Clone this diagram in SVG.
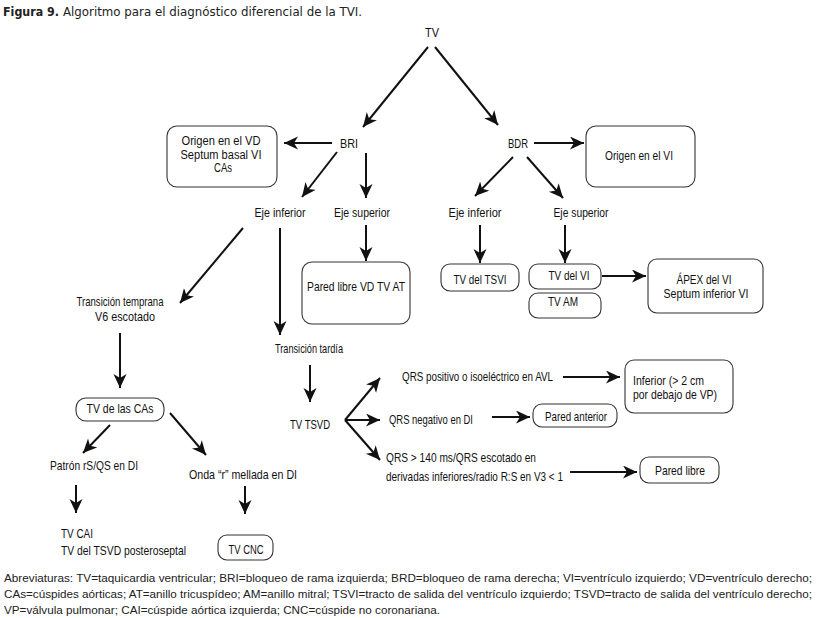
<svg xmlns="http://www.w3.org/2000/svg" width="816" height="618" viewBox="0 0 816 618">
<style>
.t{font-family:"Liberation Sans Narrow","Liberation Sans",Arial,sans-serif;font-size:13.5px;fill:#111}
.s{font-size:12.5px}
.m{text-anchor:middle}
.b{fill:#fff;stroke:#333;stroke-width:1.1}
.c line{stroke:#111;stroke-width:2}
.h{font-family:"DejaVu Sans",Verdana,sans-serif;font-size:12.5px;fill:#222}
.a{font-family:"Liberation Sans",Arial,sans-serif;font-size:11px;fill:#222}
</style>
<defs>
<marker id="ar" markerUnits="userSpaceOnUse" markerWidth="16" markerHeight="14" refX="14" refY="6.5" orient="auto" viewBox="0 0 16 14">
<path d="M0,0 L14,6.5 L0,13 L4,6.5 Z" fill="#111"/>
</marker>
</defs>
<rect width="816" height="618" fill="#fff"/>
<text class="h" x="3" y="16" font-weight="bold" textLength="56" lengthAdjust="spacingAndGlyphs">Figura 9.</text>
<text class="h" x="63" y="16" textLength="299" lengthAdjust="spacingAndGlyphs">Algoritmo para el diagnóstico diferencial de la TVI.</text>

<g class="c" marker-end="url(#ar)">
<line x1="428" y1="47" x2="363" y2="127"/>
<line x1="435" y1="47" x2="498" y2="125"/>
<line x1="332" y1="143" x2="284" y2="143"/>
<line x1="337" y1="152" x2="302" y2="197"/>
<line x1="366" y1="153" x2="366" y2="198"/>
<line x1="534" y1="143" x2="584" y2="143"/>
<line x1="513" y1="157" x2="475" y2="196"/>
<line x1="527" y1="157" x2="563" y2="198"/>
<line x1="480" y1="225" x2="480" y2="263"/>
<line x1="565" y1="225" x2="565" y2="263"/>
<line x1="602" y1="276" x2="646" y2="276"/>
<line x1="243" y1="228" x2="180" y2="303"/>
<line x1="280" y1="228" x2="280" y2="335"/>
<line x1="366" y1="225" x2="366" y2="261"/>
<line x1="120" y1="333" x2="120" y2="388"/>
<line x1="310" y1="365" x2="310" y2="402"/>
<line x1="345" y1="420" x2="380" y2="378"/>
<line x1="345" y1="420" x2="380" y2="420"/>
<line x1="345" y1="420" x2="380" y2="460"/>
<line x1="563" y1="377" x2="620" y2="377"/>
<line x1="492" y1="417" x2="530" y2="417"/>
<line x1="570" y1="472" x2="637" y2="472"/>
<line x1="110" y1="425" x2="83" y2="453"/>
<line x1="170" y1="413" x2="206" y2="455"/>
<line x1="76" y1="485" x2="76" y2="513"/>
<line x1="245" y1="486" x2="245" y2="514"/>
</g>

<g id="tv"><text class="t m" x="432" y="37" textLength="14" lengthAdjust="spacingAndGlyphs">TV</text></g>
<g id="bri"><text class="t m" x="349" y="148" textLength="18" lengthAdjust="spacingAndGlyphs">BRI</text></g>
<g id="bdr"><text class="t m" x="518" y="148" textLength="20" lengthAdjust="spacingAndGlyphs">BDR</text></g>
<g id="origen-vd">
<rect class="b" x="167" y="126" width="110" height="61" rx="10"/>
<text class="t s m" x="221" y="145" textLength="79" lengthAdjust="spacingAndGlyphs">Origen en el VD</text>
<text class="t s m" x="221" y="158.5" textLength="81" lengthAdjust="spacingAndGlyphs">Septum basal VI</text>
<text class="t s m" x="223" y="172" textLength="18" lengthAdjust="spacingAndGlyphs">CAs</text>
</g>
<g id="origen-vi">
<rect class="b" x="586" y="126" width="109" height="61" rx="10"/>
<text class="t m" x="639" y="160" textLength="68" lengthAdjust="spacingAndGlyphs">Origen en el VI</text>
</g>
<g id="eje-inf-r"><text class="t m" x="475" y="217" textLength="53" lengthAdjust="spacingAndGlyphs">Eje inferior</text></g>
<g id="eje-sup-r"><text class="t m" x="581" y="217" textLength="55" lengthAdjust="spacingAndGlyphs">Eje superior</text></g>
<g id="tsvi">
<rect class="b" x="441" y="264" width="78" height="27" rx="9"/>
<text class="t m" x="480" y="284" textLength="53" lengthAdjust="spacingAndGlyphs">TV del TSVI</text>
</g>
<g id="tv-vi">
<rect class="b" x="529" y="264" width="72" height="25" rx="9"/>
<text class="t m" x="569" y="280" textLength="41" lengthAdjust="spacingAndGlyphs">TV del VI</text>
</g>
<g id="tv-am">
<rect class="b" x="529" y="293" width="72" height="25" rx="9"/>
<text class="t m" x="563" y="306" textLength="30" lengthAdjust="spacingAndGlyphs">TV AM</text>
</g>
<g id="apex">
<rect class="b" x="648" y="259" width="115" height="54" rx="9"/>
<text class="t m" x="704" y="284" textLength="55" lengthAdjust="spacingAndGlyphs">ÁPEX del VI</text>
<text class="t m" x="706" y="298" textLength="85" lengthAdjust="spacingAndGlyphs">Septum inferior VI</text>
</g>
<g id="eje-inf-l"><text class="t m" x="280" y="217" textLength="51" lengthAdjust="spacingAndGlyphs">Eje inferior</text></g>
<g id="eje-sup-l"><text class="t m" x="362" y="217" textLength="56" lengthAdjust="spacingAndGlyphs">Eje superior</text></g>
<g id="pared-vd">
<rect class="b" x="302" y="262" width="108" height="62" rx="10"/>
<text class="t m" x="356" y="291" textLength="98" lengthAdjust="spacingAndGlyphs">Pared libre VD TV AT</text>
</g>
<g id="trans-temprana">
<text class="t m" x="120" y="306" textLength="87" lengthAdjust="spacingAndGlyphs">Transición temprana</text>
<text class="t m" x="125" y="321" textLength="60" lengthAdjust="spacingAndGlyphs">V6 escotado</text>
</g>
<g id="trans-tardia"><text class="t m" x="309" y="353" textLength="68" lengthAdjust="spacingAndGlyphs">Transición tardía</text></g>
<g id="tv-tsvd"><text class="t m" x="310" y="429" textLength="40" lengthAdjust="spacingAndGlyphs">TV TSVD</text></g>
<g id="qrs-pos"><text class="t" x="402" y="381" textLength="151" lengthAdjust="spacingAndGlyphs">QRS positivo o isoeléctrico en AVL</text></g>
<g id="inferior">
<rect class="b" x="625" y="360" width="108" height="53" rx="9"/>
<text class="t" x="633" y="385" textLength="71" lengthAdjust="spacingAndGlyphs">Inferior (&gt; 2 cm</text>
<text class="t" x="633" y="399" textLength="84" lengthAdjust="spacingAndGlyphs">por debajo de VP)</text>
</g>
<g id="qrs-neg"><text class="t" x="389" y="424" textLength="84" lengthAdjust="spacingAndGlyphs">QRS negativo en DI</text></g>
<g id="pared-anterior">
<rect class="b" x="533" y="404" width="84" height="23" rx="9"/>
<text class="t m" x="576" y="421" textLength="62" lengthAdjust="spacingAndGlyphs">Pared anterior</text>
</g>
<g id="qrs-140">
<text class="t" x="386" y="462" textLength="150" lengthAdjust="spacingAndGlyphs">QRS &gt; 140 ms/QRS escotado en</text>
<text class="t" x="386" y="481" textLength="177" lengthAdjust="spacingAndGlyphs">derivadas inferiores/radio R:S en V3 &lt; 1</text>
</g>
<g id="pared-libre">
<rect class="b" x="640" y="457" width="79" height="26" rx="9"/>
<text class="t m" x="680" y="475" textLength="50" lengthAdjust="spacingAndGlyphs">Pared libre</text>
</g>
<g id="tv-cas">
<rect class="b" x="76" y="398" width="88" height="23" rx="10"/>
<text class="t m" x="120" y="413" textLength="67" lengthAdjust="spacingAndGlyphs">TV de las CAs</text>
</g>
<g id="patron"><text class="t m" x="94" y="470" textLength="88" lengthAdjust="spacingAndGlyphs">Patrón rS/QS en DI</text></g>
<g id="onda"><text class="t m" x="243" y="479" textLength="108" lengthAdjust="spacingAndGlyphs">Onda “r” mellada en DI</text></g>
<g id="tv-cai">
<text class="t" x="61" y="538" textLength="32" lengthAdjust="spacingAndGlyphs">TV CAI</text>
<text class="t" x="61" y="555" textLength="125" lengthAdjust="spacingAndGlyphs">TV del TSVD posteroseptal</text>
</g>
<g id="tv-cnc">
<rect class="b" x="218" y="535" width="55" height="25" rx="9"/>
<text class="t m" x="246" y="554" textLength="35" lengthAdjust="spacingAndGlyphs">TV CNC</text>
</g>

<text class="a" x="4" y="582" textLength="808" lengthAdjust="spacingAndGlyphs">Abreviaturas: TV=taquicardia ventricular; BRI=bloqueo de rama izquierda; BRD=bloqueo de rama derecha; VI=ventrículo izquierdo; VD=ventrículo derecho;</text>
<text class="a" x="4" y="598" textLength="808" lengthAdjust="spacingAndGlyphs">CAs=cúspides aórticas; AT=anillo tricuspídeo; AM=anillo mitral; TSVI=tracto de salida del ventrículo izquierdo; TSVD=tracto de salida del ventrículo derecho;</text>
<text class="a" x="4" y="614" textLength="436" lengthAdjust="spacingAndGlyphs">VP=válvula pulmonar; CAI=cúspide aórtica izquierda; CNC=cúspide no coronariana.</text>
</svg>
